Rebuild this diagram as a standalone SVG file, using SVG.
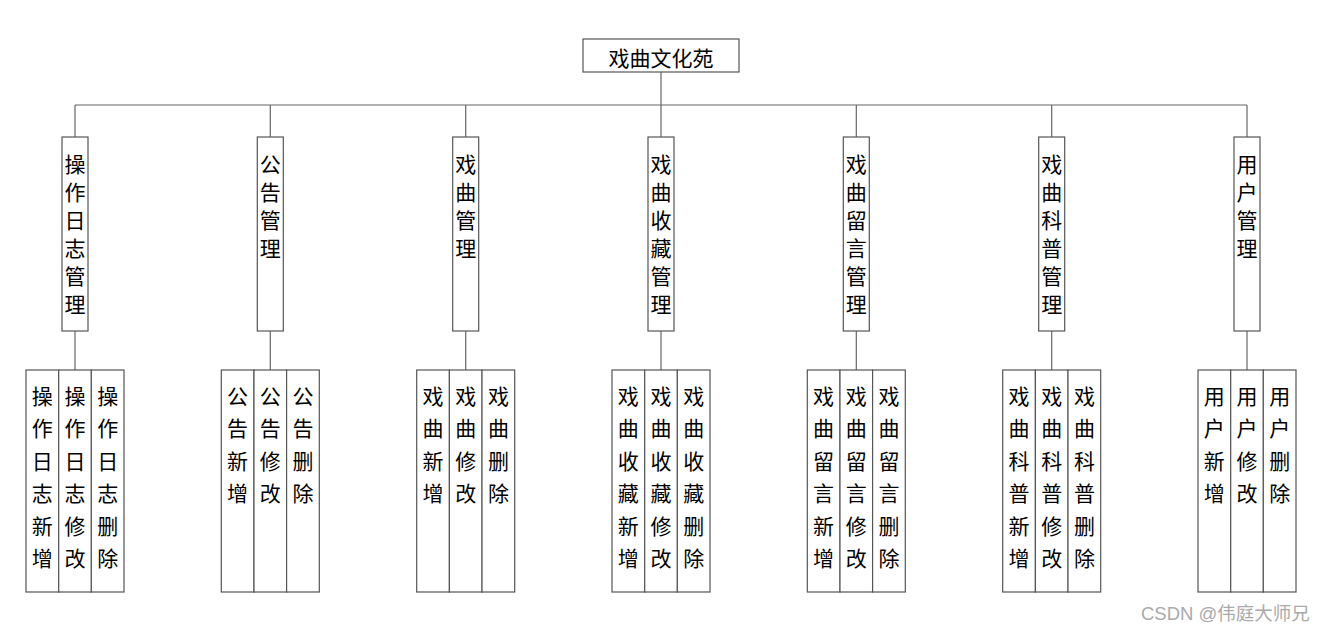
<svg xmlns="http://www.w3.org/2000/svg" width="1328" height="633" viewBox="0 0 1328 633">
<style>
.box{fill:#fff;stroke:#555;stroke-width:1.2}
.ln{stroke:#666;stroke-width:1.2;fill:none}
.t{font-family:"Noto Sans CJK SC","Noto Sans",sans-serif;font-size:21px;fill:#000;text-anchor:middle}
.wm{font-family:"Liberation Sans","Noto Sans CJK SC",sans-serif;font-size:18.5px;fill:#aaa}
</style>
<rect width="1328" height="633" fill="#fff"/>
<g id="connectors">
<line class="ln" x1="661" y1="72" x2="661" y2="105"/>
<line class="ln" x1="75" y1="105" x2="1247" y2="105"/>
<line class="ln" x1="75" y1="105" x2="75" y2="137"/>
<line class="ln" x1="270.3" y1="105" x2="270.3" y2="137"/>
<line class="ln" x1="465.7" y1="105" x2="465.7" y2="137"/>
<line class="ln" x1="661" y1="105" x2="661" y2="137"/>
<line class="ln" x1="856.3" y1="105" x2="856.3" y2="137"/>
<line class="ln" x1="1051.7" y1="105" x2="1051.7" y2="137"/>
<line class="ln" x1="1247" y1="105" x2="1247" y2="137"/>
<line class="ln" x1="75" y1="331" x2="75" y2="370"/>
<line class="ln" x1="270.3" y1="331" x2="270.3" y2="370"/>
<line class="ln" x1="465.7" y1="331" x2="465.7" y2="370"/>
<line class="ln" x1="661" y1="331" x2="661" y2="370"/>
<line class="ln" x1="856.3" y1="331" x2="856.3" y2="370"/>
<line class="ln" x1="1051.7" y1="331" x2="1051.7" y2="370"/>
<line class="ln" x1="1247" y1="331" x2="1247" y2="370"/>
</g>
<g id="root">
<rect class="box" x="583" y="39" width="156" height="33"/>
<text class="t" x="661" y="65.5">戏曲文化苑</text>
</g>
<!-- level 2 -->
<g id="n1"><rect class="box" x="62" y="137" width="26" height="194"/>
<text class="t"><tspan x="75" y="172">操</tspan><tspan x="75" dy="28">作</tspan><tspan x="75" dy="28">日</tspan><tspan x="75" dy="28">志</tspan><tspan x="75" dy="28">管</tspan><tspan x="75" dy="28">理</tspan></text></g>
<g id="n2"><rect class="box" x="257.3" y="137" width="26" height="194"/>
<text class="t"><tspan x="270.3" y="172">公</tspan><tspan x="270.3" dy="28">告</tspan><tspan x="270.3" dy="28">管</tspan><tspan x="270.3" dy="28">理</tspan></text></g>
<g id="n3"><rect class="box" x="452.7" y="137" width="26" height="194"/>
<text class="t"><tspan x="465.7" y="172">戏</tspan><tspan x="465.7" dy="28">曲</tspan><tspan x="465.7" dy="28">管</tspan><tspan x="465.7" dy="28">理</tspan></text></g>
<g id="n4"><rect class="box" x="648" y="137" width="26" height="194"/>
<text class="t"><tspan x="661" y="172">戏</tspan><tspan x="661" dy="28">曲</tspan><tspan x="661" dy="28">收</tspan><tspan x="661" dy="28">藏</tspan><tspan x="661" dy="28">管</tspan><tspan x="661" dy="28">理</tspan></text></g>
<g id="n5"><rect class="box" x="843.3" y="137" width="26" height="194"/>
<text class="t"><tspan x="856.3" y="172">戏</tspan><tspan x="856.3" dy="28">曲</tspan><tspan x="856.3" dy="28">留</tspan><tspan x="856.3" dy="28">言</tspan><tspan x="856.3" dy="28">管</tspan><tspan x="856.3" dy="28">理</tspan></text></g>
<g id="n6"><rect class="box" x="1038.7" y="137" width="26" height="194"/>
<text class="t"><tspan x="1051.7" y="172">戏</tspan><tspan x="1051.7" dy="28">曲</tspan><tspan x="1051.7" dy="28">科</tspan><tspan x="1051.7" dy="28">普</tspan><tspan x="1051.7" dy="28">管</tspan><tspan x="1051.7" dy="28">理</tspan></text></g>
<g id="n7"><rect class="box" x="1234" y="137" width="26" height="194"/>
<text class="t"><tspan x="1247" y="172">用</tspan><tspan x="1247" dy="28">户</tspan><tspan x="1247" dy="28">管</tspan><tspan x="1247" dy="28">理</tspan></text></g>
<!-- level 3 -->
<g id="n1a"><rect class="box" x="26" y="370" width="32.7" height="222"/>
<text class="t"><tspan x="42.3" y="404">操</tspan><tspan x="42.3" dy="32.4">作</tspan><tspan x="42.3" dy="32.4">日</tspan><tspan x="42.3" dy="32.4">志</tspan><tspan x="42.3" dy="32.4">新</tspan><tspan x="42.3" dy="32.4">增</tspan></text></g>
<g id="n1b"><rect class="box" x="58.7" y="370" width="32.7" height="222"/>
<text class="t"><tspan x="75" y="404">操</tspan><tspan x="75" dy="32.4">作</tspan><tspan x="75" dy="32.4">日</tspan><tspan x="75" dy="32.4">志</tspan><tspan x="75" dy="32.4">修</tspan><tspan x="75" dy="32.4">改</tspan></text></g>
<g id="n1c"><rect class="box" x="91.3" y="370" width="32.7" height="222"/>
<text class="t"><tspan x="107.7" y="404">操</tspan><tspan x="107.7" dy="32.4">作</tspan><tspan x="107.7" dy="32.4">日</tspan><tspan x="107.7" dy="32.4">志</tspan><tspan x="107.7" dy="32.4">删</tspan><tspan x="107.7" dy="32.4">除</tspan></text></g>

<g id="n2a"><rect class="box" x="221.3" y="370" width="32.7" height="222"/>
<text class="t"><tspan x="237.6" y="404">公</tspan><tspan x="237.6" dy="32.4">告</tspan><tspan x="237.6" dy="32.4">新</tspan><tspan x="237.6" dy="32.4">增</tspan></text></g>
<g id="n2b"><rect class="box" x="254" y="370" width="32.7" height="222"/>
<text class="t"><tspan x="270.3" y="404">公</tspan><tspan x="270.3" dy="32.4">告</tspan><tspan x="270.3" dy="32.4">修</tspan><tspan x="270.3" dy="32.4">改</tspan></text></g>
<g id="n2c"><rect class="box" x="286.6" y="370" width="32.7" height="222"/>
<text class="t"><tspan x="303" y="404">公</tspan><tspan x="303" dy="32.4">告</tspan><tspan x="303" dy="32.4">删</tspan><tspan x="303" dy="32.4">除</tspan></text></g>

<g id="n3a"><rect class="box" x="416.7" y="370" width="32.7" height="222"/>
<text class="t"><tspan x="433" y="404">戏</tspan><tspan x="433" dy="32.4">曲</tspan><tspan x="433" dy="32.4">新</tspan><tspan x="433" dy="32.4">增</tspan></text></g>
<g id="n3b"><rect class="box" x="449.4" y="370" width="32.7" height="222"/>
<text class="t"><tspan x="465.7" y="404">戏</tspan><tspan x="465.7" dy="32.4">曲</tspan><tspan x="465.7" dy="32.4">修</tspan><tspan x="465.7" dy="32.4">改</tspan></text></g>
<g id="n3c"><rect class="box" x="482" y="370" width="32.7" height="222"/>
<text class="t"><tspan x="498.4" y="404">戏</tspan><tspan x="498.4" dy="32.4">曲</tspan><tspan x="498.4" dy="32.4">删</tspan><tspan x="498.4" dy="32.4">除</tspan></text></g>

<g id="n4a"><rect class="box" x="612" y="370" width="32.7" height="222"/>
<text class="t"><tspan x="628.3" y="404">戏</tspan><tspan x="628.3" dy="32.4">曲</tspan><tspan x="628.3" dy="32.4">收</tspan><tspan x="628.3" dy="32.4">藏</tspan><tspan x="628.3" dy="32.4">新</tspan><tspan x="628.3" dy="32.4">增</tspan></text></g>
<g id="n4b"><rect class="box" x="644.7" y="370" width="32.7" height="222"/>
<text class="t"><tspan x="661" y="404">戏</tspan><tspan x="661" dy="32.4">曲</tspan><tspan x="661" dy="32.4">收</tspan><tspan x="661" dy="32.4">藏</tspan><tspan x="661" dy="32.4">修</tspan><tspan x="661" dy="32.4">改</tspan></text></g>
<g id="n4c"><rect class="box" x="677.3" y="370" width="32.7" height="222"/>
<text class="t"><tspan x="693.7" y="404">戏</tspan><tspan x="693.7" dy="32.4">曲</tspan><tspan x="693.7" dy="32.4">收</tspan><tspan x="693.7" dy="32.4">藏</tspan><tspan x="693.7" dy="32.4">删</tspan><tspan x="693.7" dy="32.4">除</tspan></text></g>

<g id="n5a"><rect class="box" x="807.3" y="370" width="32.7" height="222"/>
<text class="t"><tspan x="823.6" y="404">戏</tspan><tspan x="823.6" dy="32.4">曲</tspan><tspan x="823.6" dy="32.4">留</tspan><tspan x="823.6" dy="32.4">言</tspan><tspan x="823.6" dy="32.4">新</tspan><tspan x="823.6" dy="32.4">增</tspan></text></g>
<g id="n5b"><rect class="box" x="840" y="370" width="32.7" height="222"/>
<text class="t"><tspan x="856.3" y="404">戏</tspan><tspan x="856.3" dy="32.4">曲</tspan><tspan x="856.3" dy="32.4">留</tspan><tspan x="856.3" dy="32.4">言</tspan><tspan x="856.3" dy="32.4">修</tspan><tspan x="856.3" dy="32.4">改</tspan></text></g>
<g id="n5c"><rect class="box" x="872.6" y="370" width="32.7" height="222"/>
<text class="t"><tspan x="889" y="404">戏</tspan><tspan x="889" dy="32.4">曲</tspan><tspan x="889" dy="32.4">留</tspan><tspan x="889" dy="32.4">言</tspan><tspan x="889" dy="32.4">删</tspan><tspan x="889" dy="32.4">除</tspan></text></g>

<g id="n6a"><rect class="box" x="1002.7" y="370" width="32.7" height="222"/>
<text class="t"><tspan x="1019" y="404">戏</tspan><tspan x="1019" dy="32.4">曲</tspan><tspan x="1019" dy="32.4">科</tspan><tspan x="1019" dy="32.4">普</tspan><tspan x="1019" dy="32.4">新</tspan><tspan x="1019" dy="32.4">增</tspan></text></g>
<g id="n6b"><rect class="box" x="1035.4" y="370" width="32.7" height="222"/>
<text class="t"><tspan x="1051.7" y="404">戏</tspan><tspan x="1051.7" dy="32.4">曲</tspan><tspan x="1051.7" dy="32.4">科</tspan><tspan x="1051.7" dy="32.4">普</tspan><tspan x="1051.7" dy="32.4">修</tspan><tspan x="1051.7" dy="32.4">改</tspan></text></g>
<g id="n6c"><rect class="box" x="1068" y="370" width="32.7" height="222"/>
<text class="t"><tspan x="1084.4" y="404">戏</tspan><tspan x="1084.4" dy="32.4">曲</tspan><tspan x="1084.4" dy="32.4">科</tspan><tspan x="1084.4" dy="32.4">普</tspan><tspan x="1084.4" dy="32.4">删</tspan><tspan x="1084.4" dy="32.4">除</tspan></text></g>

<g id="n7a"><rect class="box" x="1198" y="370" width="32.7" height="222"/>
<text class="t"><tspan x="1214.3" y="404">用</tspan><tspan x="1214.3" dy="32.4">户</tspan><tspan x="1214.3" dy="32.4">新</tspan><tspan x="1214.3" dy="32.4">增</tspan></text></g>
<g id="n7b"><rect class="box" x="1230.7" y="370" width="32.7" height="222"/>
<text class="t"><tspan x="1247" y="404">用</tspan><tspan x="1247" dy="32.4">户</tspan><tspan x="1247" dy="32.4">修</tspan><tspan x="1247" dy="32.4">改</tspan></text></g>
<g id="n7c"><rect class="box" x="1263.3" y="370" width="32.7" height="222"/>
<text class="t"><tspan x="1279.7" y="404">用</tspan><tspan x="1279.7" dy="32.4">户</tspan><tspan x="1279.7" dy="32.4">删</tspan><tspan x="1279.7" dy="32.4">除</tspan></text></g>

<text class="wm" x="1141" y="620">CSDN @伟庭大师兄</text>
</svg>
